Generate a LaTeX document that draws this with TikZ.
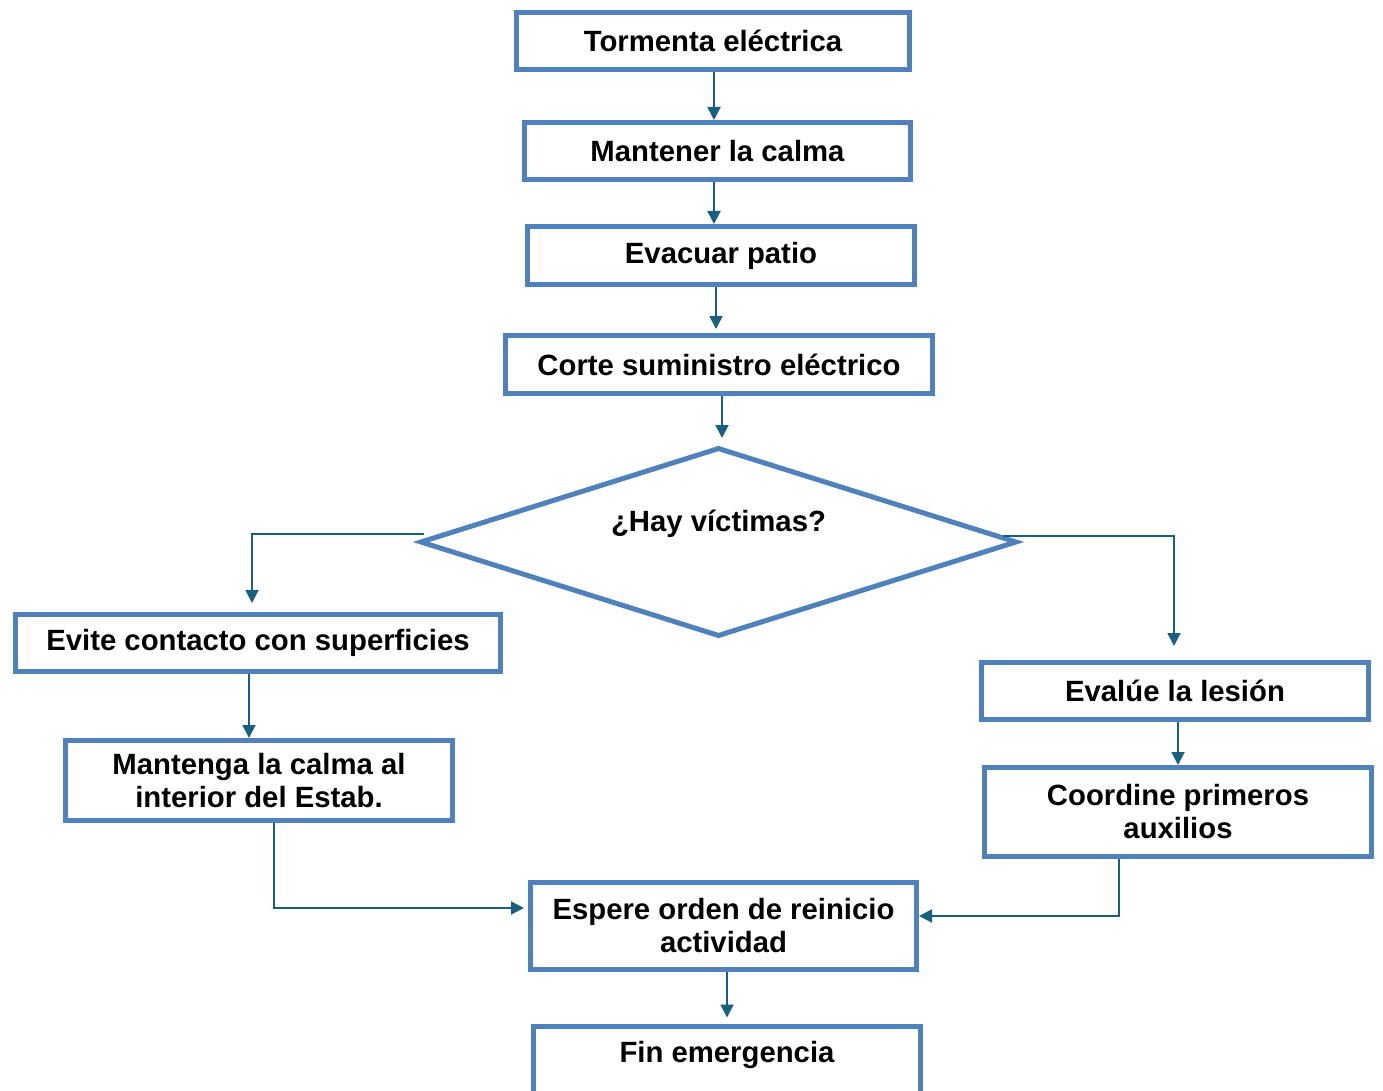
\documentclass[tikz,border=0pt]{standalone}
\usepackage{fontspec}
\setmainfont{Liberation Sans}
\usepackage{tikz}
\usetikzlibrary{arrows.meta, shapes.geometric}
\definecolor{boxblue}{HTML}{4F81BD}
\definecolor{flowteal}{HTML}{17607F}
\tikzset{
  pbox/.style={draw=boxblue, fill=white, rectangle, line width=5pt, align=center,
    inner sep=0pt, font=\fontsize{29.3}{33}\selectfont\bfseries, text=black},
  qbox/.style={draw=boxblue, fill=white, diamond, line width=5pt, inner sep=0pt,
    minimum width=597pt, minimum height=189pt},
  flow/.style={-{Triangle[length=13pt, width=13pt]}, draw=flowteal, line width=1.9pt}
}

\begin{document}
\begin{tikzpicture}[x=1pt, y=-1pt]
\useasboundingbox (0,0) rectangle (1383,1091);
\node[pbox, minimum width=393pt, minimum height=57pt] (tormenta) at (713,41) {Tormenta eléctrica};
\node[pbox, minimum width=386pt, minimum height=57pt] (calma) at (717.5,151) {Mantener la calma};
\node[pbox, minimum width=387pt, minimum height=58pt] (evacuar) at (721,255.5) {Evacuar patio};
\node[pbox, minimum width=427pt, minimum height=58pt] (corte) at (719,364.5) {Corte suministro eléctrico};
\node[qbox, label={[font=\fontsize{29.3}{33}\selectfont\bfseries, yshift=18pt]center:¿Hay víctimas?}] (victimas) at (718.5,542) {};
\node[pbox, minimum width=485pt, minimum height=57pt] (evite) at (258,643) {Evite contacto con superficies};
\node[pbox, minimum width=387pt, minimum height=80pt] (interior) at (259,780.5) {Mantenga la calma al\\interior del Estab.};
\node[pbox, minimum width=387pt, minimum height=57pt] (evalue) at (1175,691) {Evalúe la lesión};
\node[pbox, minimum width=387pt, minimum height=89pt] (auxilios) at (1178,812) {Coordine primeros\\auxilios};
\node[pbox, minimum width=386pt, minimum height=87pt] (espere) at (723.5,926) {Espere orden de reinicio\\actividad};
\node[pbox, minimum width=387pt, minimum height=72pt, text depth=20pt] (fin) at (727,1062) {Fin emergencia};
\coordinate (nosi) at (424,534);
\coordinate (si) at (1003,536);
\draw[flow] ([xshift=1pt]tormenta.south) -- ([xshift=-3.5pt]calma.north);
\draw[flow] ([xshift=-3.5pt]calma.south) -- ([xshift=-7pt]evacuar.north);
\draw[flow] ([xshift=-5pt]evacuar.south) -- ([xshift=-3pt, yshift=4pt]corte.north);
\draw[flow] ([xshift=3pt]corte.south) -- ([xshift=3.5pt, yshift=7pt]victimas.north);
\draw[flow] (nosi) -| ([xshift=-6pt, yshift=9pt]evite.north);
\draw[flow] (si) -| ([xshift=-1pt, yshift=14pt]evalue.north);
\draw[flow] ([xshift=-9pt]evite.south) -- ([xshift=-10pt]interior.north);
\draw[flow] ([xshift=3pt]evalue.south) -- (auxilios.north);
\draw[flow] ([xshift=15pt]interior.south) |- ([yshift=18pt, xshift=-4pt]espere.west);
\draw[flow] ([xshift=-59pt]auxilios.south) |- ([yshift=10pt]espere.east);
\draw[flow] ([xshift=3.5pt]espere.south) -- ([yshift=6pt]fin.north);
\end{tikzpicture}
\end{document}
